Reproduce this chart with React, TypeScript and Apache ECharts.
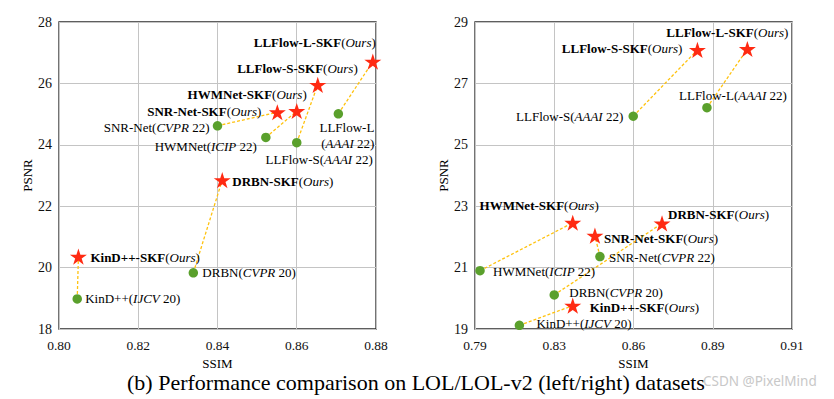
import React, { useEffect, useRef } from "react";
import * as echarts from "echarts";

// ---------- data ----------
const methods = ["KinD++", "DRBN", "SNR-Net", "HWMNet", "LLFlow-S", "LLFlow-L"];
const venueNames = ["IJCV", "CVPR", "CVPR", "ICIP", "AAAI", "AAAI"];
const venueYears = ["20", "20", "22", "22", "22", "22"];

// LOL (left)
const leftBaseSSIM = [0.8046, 0.8339, 0.84, 0.8522, 0.86, 0.8705];
const leftBasePSNR = [18.98, 19.83, 24.62, 24.24, 24.07, 25.01];
const leftSkfSSIM = [0.8049, 0.8412, 0.8551, 0.86, 0.8653, 0.8792];
const leftSkfPSNR = [20.36, 22.85, 25.06, 25.1, 25.95, 26.71];

// LOL-v2 (right)
const rightBaseSSIM = [0.8068, 0.82, 0.8373, 0.7919, 0.8499, 0.8778];
const rightBasePSNR = [19.12, 20.11, 21.36, 20.9, 25.93, 26.21];
const rightSkfSSIM = [0.827, 0.8608, 0.8354, 0.827, 0.8742, 0.8931];
const rightSkfPSNR = [19.76, 22.44, 22.04, 22.46, 28.09, 28.12];

const leftXTicks = ["0.80", "0.82", "0.84", "0.86", "0.88"];
const leftYTicks = ["18", "20", "22", "24", "26", "28"];
const rightXTicks = ["0.79", "0.83", "0.86", "0.89", "0.91"];
const rightYTicks = ["19", "21", "23", "25", "27", "29"];

const caption = "(b) Performance comparison on LOL/LOL-v2 (left/right) datasets";
const watermark = "CSDN @PixelMind";

// ---------- label layout (align, dx, dy, twoLines) ----------
type LL = [string, number, number, boolean?];
const leftBaseLayout: LL[] = [
  ["left", 8, 0],
  ["left", 9, 0],
  ["right", -8, 2],
  ["right", -9, 9],
  ["right", 76, 17],
  ["right", 36, 22, true],
];
const leftSkfLayout: LL[] = [
  ["left", 12, 1],
  ["left", 10, 1],
  ["right", -16, -1],
  ["right", 10, -17],
  ["right", 40, -16],
  ["right", 3, -19],
];
const rightBaseLayout: LL[] = [
  ["left", 17, -2],
  ["left", 15, -2],
  ["left", 9, 1],
  ["left", 13, 1],
  ["right", -10, 0],
  ["right", 80, -12],
];
const rightSkfLayout: LL[] = [
  ["left", 17, 2],
  ["left", 6, -9],
  ["left", 9, 3],
  ["right", 26, -17],
  ["right", -15, -1],
  ["right", 41, -17],
];

const serif = "'Liberation Serif', 'Times New Roman', serif";
const GREEN = "#5aa02c";
const RED = "#ff2a12";
const DASH = "#ffc20e";
const STAR =
  "path://M0,-1L0.2245,-0.309L0.951,-0.309L0.363,0.118L0.588,0.809L0,0.382L-0.588,0.809L-0.363,0.118L-0.951,-0.309L-0.2245,-0.309Z";

const rich = {
  n: { fontFamily: serif, fontSize: 13, color: "#000" },
  i: { fontFamily: serif, fontSize: 13, color: "#000", fontStyle: "italic" },
  b: { fontFamily: serif, fontSize: 13, color: "#000", fontWeight: "bold" },
};

function baseText(i: number, two?: boolean) {
  if (two) return `{n|${methods[i]}}\n{n|(}{i|${venueNames[i]}}{n| ${venueYears[i]})}`;
  return `{n|${methods[i]}(}{i|${venueNames[i]}}{n| ${venueYears[i]})}`;
}
function skfText(i: number) {
  return `{b|${methods[i]}-SKF}{n|(}{i|Ours}{n|)}`;
}

function pts(xs: number[], ys: number[], layout: LL[], textFn: (i: number, two?: boolean) => string) {
  return xs.map((x, i) => ({
    value: [x, ys[i]],
    label: {
      show: true,
      position: "inside",
      align: layout[i][0],
      verticalAlign: "middle",
      offset: [layout[i][1], layout[i][2]],
      formatter: textFn(i, layout[i][3]),
      rich,
      lineHeight: 15.6,
    },
  }));
}

function makeX(gridIndex: number, min: number, max: number, interval: number, ticks: string[]) {
  return {
    type: "value",
    gridIndex,
    min,
    max,
    interval,
    name: "SSIM",
    nameLocation: "middle",
    nameGap: 18,
    nameTextStyle: { fontFamily: serif, fontSize: 13, color: "#000", lineHeight: 13 },
    axisLine: { show: false },
    axisTick: { show: false },
    axisLabel: {
      margin: 9,
      fontFamily: serif,
      fontSize: 13.5,
      color: "#111",
      formatter: (_v: number, idx: number) => ticks[idx] ?? "",
    },
    splitLine: { show: true, lineStyle: { color: "#c4c4c4", width: 1 } },
  };
}
function makeY(gridIndex: number, min: number, max: number, interval: number, ticks: string[]) {
  return {
    type: "value",
    gridIndex,
    min,
    max,
    interval,
    name: "PSNR",
    nameLocation: "middle",
    nameRotate: 90,
    nameGap: 22,
    nameTextStyle: { fontFamily: serif, fontSize: 13, color: "#000" },
    axisLine: { show: false },
    axisTick: { show: false },
    axisLabel: {
      margin: 7,
      fontFamily: serif,
      fontSize: 14,
      color: "#111",
      formatter: (_v: number, idx: number) => ticks[idx] ?? "",
    },
    splitLine: { show: true, lineStyle: { color: "#c4c4c4", width: 1 } },
  };
}

function connectors(idx: number, bx: number[], by: number[], sx: number[], sy: number[]) {
  return bx.map((x, i) => ({
    type: "line",
    xAxisIndex: idx,
    yAxisIndex: idx,
    data: [
      [x, by[i]],
      [sx[i], sy[i]],
    ],
    symbol: "none",
    silent: true,
    z: 1,
    lineStyle: { color: DASH, width: 1.3, type: [3, 2] },
  }));
}

function scatter(idx: number, star: boolean, xs: number[], ys: number[], layout: LL[], textFn: any) {
  return {
    type: "scatter",
    xAxisIndex: idx,
    yAxisIndex: idx,
    symbol: star ? STAR : "circle",
    symbolKeepAspect: true,
    symbolSize: star ? 17 : 9.5,
    itemStyle: { color: star ? RED : GREEN, opacity: 1 },
    z: 3,
    data: pts(xs, ys, layout, textFn),
  };
}

export default function App() {
  const ref = useRef<HTMLDivElement>(null);
  useEffect(() => {
    if (!ref.current) return;
    const chart = echarts.init(ref.current, null, { renderer: "svg" });
    const option: any = {
      animation: false,
      backgroundColor: "#fff",
      textStyle: { fontFamily: serif },
      grid: [
        { left: 59, right: 834 - 376, top: 22, bottom: 399 - 329, show: true, borderColor: "#2a2a2a", borderWidth: 1.3, backgroundColor: "transparent" },
        { left: 475, right: 834 - 792, top: 22, bottom: 399 - 329, show: true, borderColor: "#2a2a2a", borderWidth: 1.3, backgroundColor: "transparent" },
      ],
      xAxis: [makeX(0, 0.8, 0.88, 0.02, leftXTicks), makeX(1, 0.79, 0.91, 0.03, rightXTicks)],
      yAxis: [makeY(0, 18, 28, 2, leftYTicks), makeY(1, 19, 29, 2, rightYTicks)],
      series: [
        ...connectors(0, leftBaseSSIM, leftBasePSNR, leftSkfSSIM, leftSkfPSNR),
        ...connectors(1, rightBaseSSIM, rightBasePSNR, rightSkfSSIM, rightSkfPSNR),
        scatter(0, false, leftBaseSSIM, leftBasePSNR, leftBaseLayout, baseText),
        scatter(0, true, leftSkfSSIM, leftSkfPSNR, leftSkfLayout, skfText),
        scatter(1, false, rightBaseSSIM, rightBasePSNR, rightBaseLayout, baseText),
        scatter(1, true, rightSkfSSIM, rightSkfPSNR, rightSkfLayout, skfText),
      ],
      graphic: [
        {
          type: "text",
          x: 127,
          y: 382,
          style: { text: caption, font: `22px ${serif}`, fill: "#000", textVerticalAlign: "middle", textAlign: "left", lineHeight: 22 },
        },
        {
          type: "text",
          x: 703,
          y: 381,
          style: { text: watermark, font: `13.5px 'Noto Sans', sans-serif`, fill: "#c8c8c8", textVerticalAlign: "middle", textAlign: "left" },
        },
      ],
    };
    chart.setOption(option);
    return () => chart.dispose();
  }, []);
  return (
    <div
      ref={ref}
      style={{ position: "fixed", left: 0, top: 0, width: 834, height: 399, background: "#fff" }}
    />
  );
}
